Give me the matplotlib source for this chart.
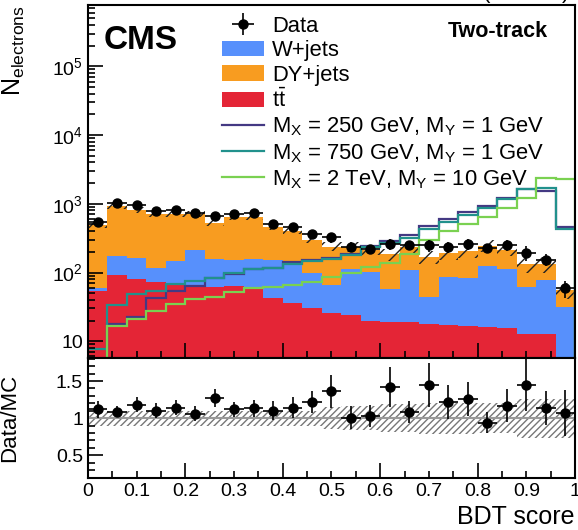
import numpy as np
import matplotlib
matplotlib.use('Agg')
import matplotlib.pyplot as plt
from matplotlib.ticker import MultipleLocator, LogLocator, FuncFormatter, NullFormatter

plt.rcParams['font.family'] = ['Liberation Sans', 'DejaVu Sans']
plt.rcParams['mathtext.fontset'] = 'custom'
plt.rcParams['mathtext.rm'] = 'Liberation Sans'
plt.rcParams['mathtext.it'] = 'Liberation Sans:italic'
plt.rcParams['mathtext.bf'] = 'Liberation Sans:bold'
plt.rcParams['hatch.linewidth'] = 1.0

# 25 bins of BDT score
edges = np.linspace(0, 1, 26)
centers = 0.5 * (edges[1:] + edges[:-1])

# background stack (events per bin)
ttbar = [53, 93, 80, 73, 70, 62, 61, 63, 60, 43, 36, 30, 26, 24, 20, 19, 19, 18, 17.5, 16.6, 16.1, 15.8, 12.9, 12.9, 3]
wjets = [7, 79, 85, 45, 76, 148, 94, 89, 98, 108, 99, 67, 40, 87, 82, 39, 91, 26, 69, 68, 110, 98, 49, 65, 28]
dyjets = [427, 763, 639, 602, 574, 493, 375, 491, 485, 315, 263, 198, 173, 126, 114, 126, 125, 127, 107, 120, 119, 100, 71, 57, 24]
mc_unc = [0.10, 0.10, 0.10, 0.10, 0.10, 0.10, 0.10, 0.10, 0.10, 0.10, 0.10, 0.10,
          0.15, 0.16, 0.16, 0.19, 0.19, 0.21, 0.21, 0.21, 0.20, 0.20, 0.26, 0.26, 0.26]

# data
data = [545, 1019, 949, 792, 821, 745, 673, 720, 727, 513, 454, 360, 325, 239, 222, 261, 254, 248, 236, 258, 230, 250, 193, 154, 59]
data_err = [54, 75, 80, 72, 72, 70, 64, 64, 71, 61, 56, 44, 53, 38, 32, 50, 35, 51, 45, 47, 34, 47, 48, 31, 17]

# signals
sig_250 = [3, 18, 22.5, 42, 53, 63, 82, 94, 114, 118, 142, 154, 163, 189, 245, 288, 348, 471, 592, 748, 935, 1230, 1665, 1540, 460]
sig_750 = [7.7, 34, 48, 53, 67, 75, 83, 97, 114, 118, 132, 147, 156, 178, 232, 269, 318, 432, 543, 680, 869, 1160, 1625, 1700, 436]
sig_2000 = [1, 16.5, 21, 28, 34.5, 41, 44, 52, 60, 62, 65, 73, 85, 97, 120, 136, 185, 300, 405, 515, 640, 869, 1230, 2400, 2330]

fig = plt.figure(figsize=(5.78, 5.30), dpi=100)
ax = fig.add_axes([0.1522, 0.3245, 0.8426, 0.666])
rax = fig.add_axes([0.1522, 0.0981, 0.8426, 0.2264])

stack = np.cumsum([ttbar, wjets, dyjets], axis=0)
total = stack[2]
unc = np.array(mc_unc)

h_tt = ax.stairs(stack[0], edges, baseline=0.1, fill=True, color='#e42536', lw=0)
h_w = ax.stairs(stack[1], edges, baseline=stack[0], fill=True, color='#5790fc', lw=0)
h_dy = ax.stairs(stack[2], edges, baseline=stack[1], fill=True, color='#f89c20', lw=0)
ax.stairs(total * (1 + unc), edges, baseline=total * (1 - unc), fill=True,
          facecolor='none', edgecolor='#222222', hatch='//', lw=0)

h_s1 = ax.stairs(sig_250, edges, color='#443983', lw=1.6)
h_s2 = ax.stairs(sig_750, edges, color='#21918c', lw=1.6)
h_s3 = ax.stairs(sig_2000, edges, color='#7ad151', lw=1.6)

h_data = ax.errorbar(centers, data, xerr=0.02, yerr=data_err, fmt='o', color='black',
                     ms=6.5, lw=1.2)

handles = [h_data, h_w, h_dy, h_tt, h_s1, h_s2, h_s3]
labels = ['Data', 'W+jets', 'DY+jets', r't$\bar{\rm t}$',
          r'M$_{\rm X}$ = 250 GeV, M$_{\rm Y}$ = 1 GeV',
          r'M$_{\rm X}$ = 750 GeV, M$_{\rm Y}$ = 1 GeV',
          r'M$_{\rm X}$ = 2 TeV, M$_{\rm Y}$ = 10 GeV']
ax.legend(handles, labels, loc='upper left', bbox_to_anchor=(0.275, 0.97), frameon=False,
          fontsize=15.8, handlelength=1.9, handletextpad=0.4, labelspacing=0.16,
          borderpad=0, borderaxespad=0)

ax.text(0.033, 0.875, 'CMS', transform=ax.transAxes, fontsize=24, fontweight='bold')
ax.text(0.945, 0.909, 'Two-track', transform=ax.transAxes, fontsize=15.5, fontweight='bold', ha='right')
fig.text(0.986, 1.002, r'138 fb$^{-1}$ (13 TeV)', fontsize=16, ha='right', va='baseline')

ax.set_yscale('log')
ax.set_ylim(5.7, 7.8e5)
ax.set_xlim(0, 1)
ax.yaxis.set_major_locator(LogLocator(base=10, numticks=10))
ax.yaxis.set_minor_locator(LogLocator(base=10, subs=np.arange(2, 10), numticks=20))
ax.yaxis.set_major_formatter(FuncFormatter(
    lambda v, p: '10' if abs(v - 10) < 1e-6 else r'10$^{%d}$' % round(np.log10(v))))
ax.yaxis.set_minor_formatter(NullFormatter())
ax.xaxis.set_major_locator(MultipleLocator(0.2))
ax.xaxis.set_minor_locator(MultipleLocator(0.05))
ax.tick_params(which='both', direction='in', top=False, right=False, labelbottom=False, labelsize=14, width=1.2)
ax.tick_params(which='major', length=11)
ax.tick_params(which='minor', length=5)
ax.set_ylabel(r'N$_{\rm electrons}$', fontsize=18, loc='top')
ax.yaxis.set_label_coords(-0.125, 1.0)

# ratio panel
ratio = np.array(data) / total
rax.stairs(1 + unc, edges, baseline=1 - unc, fill=True, facecolor='none',
           edgecolor='#777777', hatch='/////', lw=0)
rax.axhline(1, color='#999999', lw=1.5)
rax.errorbar(centers, ratio, xerr=0.02, yerr=np.array(data_err) / total, fmt='o',
             color='black', ms=6.5, lw=1.2)
rax.set_xlim(0, 1)
rax.set_ylim(0.195, 1.81)
rax.xaxis.set_major_locator(MultipleLocator(0.2))
rax.xaxis.set_minor_locator(MultipleLocator(0.05))
rax.xaxis.set_major_formatter(FuncFormatter(lambda v, p: '%g' % round(v, 2)))


def minor_label(v, p):
    k = round(v * 20)
    if abs(v * 20 - k) < 1e-6 and k % 4 == 2:
        return '%g' % round(v, 2)
    return ''


rax.xaxis.set_minor_formatter(FuncFormatter(minor_label))
rax.yaxis.set_major_locator(MultipleLocator(0.5))
rax.yaxis.set_minor_locator(MultipleLocator(0.1))
rax.yaxis.set_major_formatter(FuncFormatter(lambda v, p: '%g' % v))
rax.tick_params(which='both', direction='in', top=False, right=False, labelsize=14, width=1.2)
rax.tick_params(which='major', length=11)
rax.tick_params(which='minor', length=5)
rax.set_ylabel('Data/MC', fontsize=16)
rax.yaxis.set_label_coords(-0.14, 0.5)
rax.set_xlabel('BDT score', fontsize=18, loc='right')

for a in (ax, rax):
    for s in a.spines.values():
        s.set_linewidth(1.5)

fig.savefig('out.png', dpi=100)
